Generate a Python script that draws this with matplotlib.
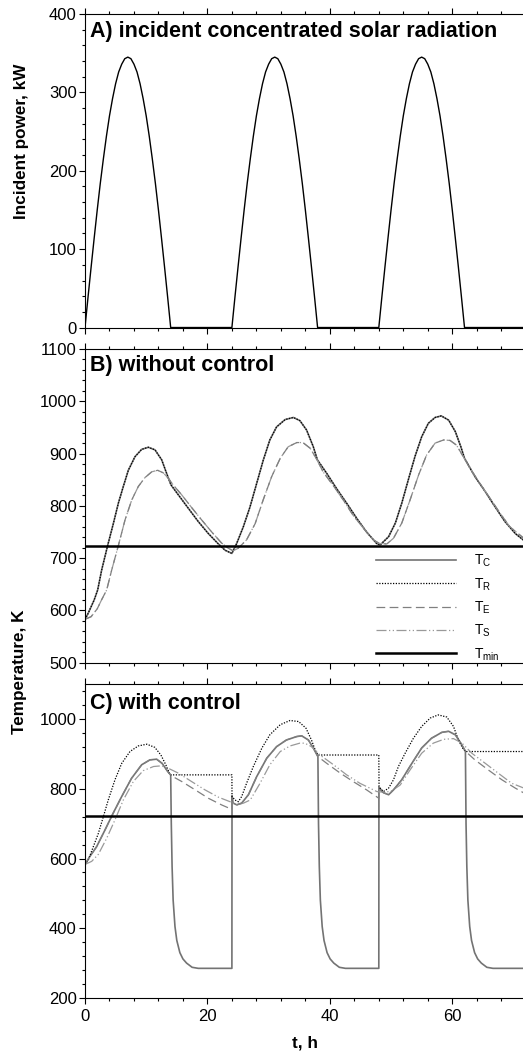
import matplotlib
matplotlib.use("Agg")
import numpy as np
import matplotlib.pyplot as plt
from matplotlib.ticker import MultipleLocator

plt.rcParams['font.family'] = ['Liberation Sans', 'DejaVu Sans']
plt.rcParams['mathtext.fontset'] = 'custom'
plt.rcParams['mathtext.rm'] = 'Liberation Sans'

# ---- A) incident power, one sunny day (h, kW), repeated every 24 h ----
sun_t = [0, 0.5, 1, 1.5, 2, 2.5, 3, 3.5, 4, 4.5, 5, 5.5, 6, 6.5, 7,
         7.5, 8, 8.5, 9, 9.5, 10, 10.5, 11, 11.5, 12, 12.5, 13, 13.5, 14]
sun_p = [0, 39, 77, 114, 150, 184, 215, 244, 270, 292, 311, 326, 336, 343, 345,
         343, 336, 326, 311, 292, 270, 244, 215, 184, 150, 114, 77, 39, 0]
day_starts = [0, 24, 48]
t_end = 72

# ---- B) without control ----
tR_b = [0, 0.5, 1.0, 1.5, 2.07, 2.72, 3.7, 4.63, 5.45, 6.26, 7.08, 8.17, 9.26, 10.35, 11.44,
        12.53, 13.34, 14.05, 15.25, 16.9, 18.5, 20.15, 21.8, 22.9, 24.0, 24.78, 25.87, 26.96,
        28.05, 29.14, 30.2, 31.3, 32.7, 34.04, 35.1, 36.2, 37.3, 37.96, 39.5, 41.1, 42.75,
        44.4, 46.0, 47.65, 48.2, 49.6, 50.7, 51.75, 52.8, 53.9, 55.0, 56.1, 57.2, 58.2, 59.4,
        60.5, 61.4, 62.0, 63.7, 65.4, 67.0, 68.6, 70.3, 72]
TR_b = [583, 594, 607, 620, 639, 677, 724, 766, 805, 837, 868, 894, 908, 912, 907,
        888, 862, 840, 821, 795, 770, 747, 727, 715, 709, 728, 760, 798,
        843, 888, 926, 951, 965, 969, 963, 945, 913, 888, 862, 833, 805,
        776, 750, 728, 725, 741, 767, 805, 849, 894, 932, 958, 969, 972, 964,
        942, 913, 891, 856, 827, 798, 770, 747, 731]
tE_b = [0, 1.0, 2.0, 2.7, 3.54, 4.36, 5.45, 6.54, 7.63, 8.71, 9.8, 10.9, 11.87, 12.8, 13.6,
        14.4, 15.8, 17.4, 19.06, 20.7, 22.3, 23.4, 24.2, 25.05, 26.4, 27.8, 29.1, 30.5, 31.9,
        33.2, 34.6, 35.6, 36.8, 37.9, 38.9, 40.6, 42.2, 43.8, 45.5, 47.1, 48.1, 49.3, 50.4,
        51.75, 53.1, 54.5, 55.8, 57.2, 58.6, 59.65, 60.7, 61.8, 62.9, 64.5, 66.2, 67.8, 69.4, 72]
TE_b = [583, 588, 603, 620, 639, 677, 724, 773, 811, 837, 854, 865, 868, 863, 853,
        840, 821, 797, 773, 750, 729, 719, 714, 719, 735, 766, 811, 856, 891,
        913, 921, 921, 910, 888, 865, 838, 811, 782, 757, 735, 728, 727, 738,
        767, 811, 859, 897, 920, 926, 925, 916, 894, 872, 843, 814, 786, 760, 735]

# ---- C) with control ----
tR_c = [0, 0.54, 1.36, 2.18, 3.0, 3.8, 4.9, 6.0, 7.35, 8.7, 10.1, 11.4, 12.4, 13.2, 13.9,
        24.0, 24.02, 24.5, 25.05, 25.6, 26.4, 27.5, 28.9, 30.2, 31.9, 33.5, 34.9, 36.1, 37.0,
        37.7, 38.1, 48.0, 48.04, 48.2, 48.75, 49.6, 50.4, 51.2, 52.3, 53.65, 55.0, 56.4, 57.7,
        59.1, 60.2, 61.0, 61.7, 62.2, 72]
TR_c = [583, 596, 634, 672, 720, 768, 826, 873, 907, 923, 928, 919, 897, 869, 840,
        840, 778, 768, 763, 778, 816, 864, 917, 955, 984, 996, 993, 974, 940,
        907, 897, 897, 807, 802, 792, 802, 826, 864, 902, 945, 979, 1003, 1012,
        1006, 979, 940, 917, 907, 907]
tE_c = [0, 0.8, 1.9, 3.27, 4.6, 6.0, 7.6, 9.26, 10.6, 11.7, 12.6, 13.5, 14.05, 15.8, 18.0,
        20.15, 22.3, 24.0, 24.02, 24.2, 24.8, 25.6, 26.7, 28.05, 29.7, 31.3, 32.9, 34.6, 35.4,
        36.5, 37.3, 38.0, 39.5, 41.7, 43.8, 46.0, 48.0, 48.02, 48.75, 49.6, 50.4, 51.75, 53.4,
        55.0, 56.6, 58.3, 59.4, 60.5, 61.4, 62.2, 63.7, 65.9, 68.1, 70.3, 72]
TE_c = [583, 606, 634, 682, 730, 778, 830, 869, 883, 885, 873, 850, 838, 821, 797,
        773, 754, 741, 762, 759, 754, 759, 783, 835, 888, 921, 940, 950, 952,
        940, 917, 893, 873, 845, 821, 797, 773, 799, 789, 783, 797, 826, 873,
        917, 945, 962, 965, 955, 931, 907, 883, 854, 826, 802, 785]
tS_c = [0, 1.1, 2.18, 3.54, 4.9, 6.26, 7.9, 9.5, 11.2, 12.5, 13.6, 15.25, 17.4, 19.6, 21.8,
        24.0, 24.8, 25.9, 27.0, 28.6, 30.2, 31.9, 33.5, 35.1, 35.9, 37.0, 38.4, 40.6, 42.75,
        44.9, 47.7, 49.0, 50.1, 51.5, 53.1, 55.0, 56.9, 58.6, 60.2, 61.6, 63.2, 65.4, 67.5,
        69.7, 72]
TS_c = [583, 592, 612, 658, 711, 768, 821, 852, 864, 866, 859, 845, 821, 797, 776,
        761, 754, 759, 768, 816, 869, 907, 923, 931, 931, 921, 897, 869, 840,
        816, 792, 790, 794, 811, 854, 902, 931, 942, 944, 931, 902, 873, 845,
        816, 800]
tC_c = [0, 0.8, 1.9, 3.27, 4.6, 6.0, 7.6, 9.26, 10.6, 11.7, 12.6, 13.5,
        14.0, 14.1, 14.23, 14.4, 14.7, 15.0, 15.5, 16.0, 16.6, 17.5, 18.5, 24.0,
        24.02, 24.2, 24.8, 25.6, 26.7, 28.05, 29.7, 31.3, 32.9, 34.6, 35.4, 36.5, 37.3,
        38.05, 38.15, 38.28, 38.45, 38.75, 39.05, 39.55, 40.05, 40.65, 41.55, 42.55, 48.0,
        48.02, 48.75, 49.6, 50.4, 51.75, 53.4, 55.0, 56.6, 58.3, 59.4, 60.5, 61.4,
        62.15, 62.25, 62.38, 62.55, 62.85, 63.15, 63.65, 64.15, 64.75, 65.65, 66.65, 72]
TC_c = [583, 606, 634, 682, 730, 778, 830, 869, 883, 885, 873, 850,
        840, 700, 577, 481, 405, 365, 330, 312, 300, 288, 285, 285,
        780, 759, 754, 759, 783, 835, 888, 921, 940, 950, 952, 940, 917,
        893, 700, 577, 481, 405, 365, 330, 312, 300, 288, 285, 285,
        805, 789, 783, 797, 826, 873, 917, 945, 962, 965, 955, 931,
        907, 700, 577, 481, 405, 365, 330, 312, 300, 288, 285, 285]
T_min = 723

labels = [r'$\mathrm{T_C}$', r'$\mathrm{T_R}$', r'$\mathrm{T_E}$', r'$\mathrm{T_S}$',
          r'$\mathrm{T_{min}}$']

stC = dict(color='0.45', lw=1.2, ls='-')
stR = dict(color='black', lw=0.9, ls=(0, (1, 1.2)))
stE = dict(color='0.5', lw=0.9, ls=(0, (7, 3.5)))
stS = dict(color='0.6', lw=0.9, ls=(0, (8, 2, 1, 2, 1, 2)))
stM = dict(color='black', lw=1.8, ls='-')

fig = plt.figure(figsize=(5.23, 10.61), dpi=100)
axA = fig.add_axes([0.1625, 0.6913, 0.8427, 0.2955])
axB = fig.add_axes([0.1625, 0.3754, 0.8427, 0.2957])
axC = fig.add_axes([0.1625, 0.0594, 0.8427, 0.2957])

# A
tA = np.concatenate([np.array(sun_t) + s for s in day_starts] + [[t_end]])
pA = np.concatenate([np.array(sun_p) for s in day_starts] + [[0]])
axA.plot(tA, pA, color='black', lw=1.0)
axA.set_ylim(0, 400)
axA.yaxis.set_major_locator(MultipleLocator(100))
axA.yaxis.set_minor_locator(MultipleLocator(20))
fig.text(0.042, 1 - 141 / 1061, 'Incident power, kW', rotation=90,
         ha='center', va='center', fontsize=12.3, fontweight='bold')

# B
axB.plot(tR_b, TR_b, **stC)
axB.plot(tR_b, TR_b, **stR)
axB.plot(tE_b, TE_b, **stS)
axB.plot(tE_b, TE_b, **stE)
axB.axhline(T_min, **stM)
axB.set_ylim(500, 1100)
axB.yaxis.set_major_locator(MultipleLocator(100))
axB.yaxis.set_minor_locator(MultipleLocator(20))
hC, = axB.plot([], [], **stC)
hR, = axB.plot([], [], **stR)
hE, = axB.plot([], [], **stE)
hS, = axB.plot([], [], **stS)
hM, = axB.plot([], [], **stM)
axB.legend([hC, hR, hE, hS, hM], labels, loc='lower left', bbox_to_anchor=(0.66, 0.0),
           frameon=False, fontsize=10, handlelength=5.76, handletextpad=1.3,
           labelspacing=0.5, borderpad=0, borderaxespad=0)

# C
axC.plot(tC_c, TC_c, **stC)
axC.plot(tR_c, TR_c, **stR)
axC.plot(tS_c, TS_c, **stS)
axC.plot(tE_c, TE_c, **stE)
axC.axhline(T_min, **stM)
axC.set_ylim(200, 1100)
axC.yaxis.set_major_locator(MultipleLocator(200))
axC.yaxis.set_minor_locator(MultipleLocator(40))
axC.set_xlabel('t, h', fontsize=12.3, fontweight='bold', labelpad=8)

fig.text(0.038, 1 - 672 / 1061, 'Temperature, K', rotation=90,
         ha='center', va='center', fontsize=12.3, fontweight='bold')

titles = ['A) incident concentrated solar radiation', 'B) without control', 'C) with control']
for ax, title, ty in zip([axA, axB, axC], titles, [0.943, 0.946, 0.94]):
    ax.set_xlim(0, 72)
    ax.xaxis.set_major_locator(MultipleLocator(20))
    ax.xaxis.set_minor_locator(MultipleLocator(4))
    ax.tick_params(which='both', direction='out', top=True, right=False, width=0.8,
                   labelsize=12, pad=2)
    ax.tick_params(which='major', length=4)
    ax.tick_params(which='minor', length=2.5)
    for sp in ax.spines.values():
        sp.set_linewidth(0.8)
    ax.text(0.012, ty, title, transform=ax.transAxes, ha='left', va='center',
            fontsize=15.5, fontweight='bold')
    if ax is not axC:
        ax.tick_params(labelbottom=False)
axC.tick_params(axis='x', pad=4)

fig.savefig('out.png', dpi=100)
